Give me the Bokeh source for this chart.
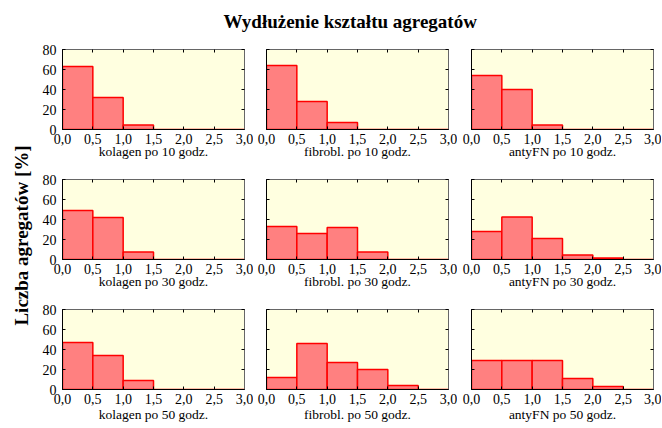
import math
from bokeh.plotting import figure
from bokeh.layouts import column, row, gridplot
from bokeh.models import (Range1d, FixedTicker, LinearAxis, Label,
                          CustomJSTickFormatter, ColumnDataSource)
from bokeh.embed import file_html
from bokeh.resources import INLINE

# ---------------- data ----------------
bin_left = [0.0, 0.5, 1.0, 1.5, 2.0, 2.5]
bin_right = [0.5, 1.0, 1.5, 2.0, 2.5, 3.0]

kolagen_10 = [63, 32, 4.5, 0, 0, 0]
fibrobl_10 = [64, 28, 7, 0, 0, 0]
antyfn_10 = [54, 40, 4.5, 0, 0, 0]
kolagen_30 = [49, 42, 7.5, 0, 0, 0]
fibrobl_30 = [33, 26, 32, 7.5, 0, 0]
antyfn_30 = [28, 42.5, 21, 4.5, 1.5, 0]
kolagen_50 = [47, 34, 9, 0, 0, 0]
fibrobl_50 = [12, 46, 27, 20, 4, 0]
antyfn_50 = [29, 29, 29, 11, 3, 0]

panel_titles = [
    ["kolagen po 10 godz.", "fibrobl. po 10 godz.", "antyFN po 10 godz."],
    ["kolagen po 30 godz.", "fibrobl. po 30 godz.", "antyFN po 30 godz."],
    ["kolagen po 50 godz.", "fibrobl. po 50 godz.", "antyFN po 50 godz."],
]
panel_values = [
    [kolagen_10, fibrobl_10, antyfn_10],
    [kolagen_30, fibrobl_30, antyfn_30],
    [kolagen_50, fibrobl_50, antyfn_50],
]
x_ticks = [0.0, 0.5, 1.0, 1.5, 2.0, 2.5, 3.0]
y_ticks = [0, 20, 40, 60, 80]

main_title = "Wydłużenie kształtu agregatów"
y_title = "Liczba agregatów [%]"

# ---------------- style ----------------
FONT = "Liberation Serif"
BG = "#FFFFE0"
FILL = "#FF8080"
EDGE = "#FF0000"

col_left = [26, 13, 14]
col_right = [9, 9, 8]
row_top = [6, 6, 6]
row_bottom = [44, 44, 39]
label_standoff = [-3, -3, 0]
FW, FH = 182, 80
YL_W = 36
TITLE_H = 43

fmt = CustomJSTickFormatter(code="return tick.toFixed(1).replace('.', ',');")


def hide_labels(ax):
    ax.major_label_text_font_size = "1px"
    ax.major_label_standoff = 0
    ax.major_label_text_color = None


def make_panel(r, c):
    p = figure(frame_width=FW, frame_height=FH,
               x_range=Range1d(0, 3), y_range=Range1d(0, 80),
               output_backend="svg", toolbar_location=None, tools="",
               min_border_left=col_left[c], min_border_right=col_right[c],
               min_border_top=row_top[r], min_border_bottom=row_bottom[r],
               background_fill_color=BG, border_fill_color="white",
               outline_line_color="#666666", outline_line_width=1)
    p.xgrid.visible = False
    p.ygrid.visible = False

    src = ColumnDataSource(dict(left=bin_left, right=bin_right,
                                top=panel_values[r][c],
                                bottom=[0] * len(bin_left)))
    p.quad(left="left", right="right", top="top", bottom="bottom", source=src,
           fill_color=FILL, line_color=EDGE, line_width=1.5)

    # bottom axis
    xa = p.xaxis[0]
    xa.ticker = FixedTicker(ticks=x_ticks)
    xa.formatter = fmt
    xa.major_tick_in = 3
    xa.major_tick_out = 0
    xa.minor_tick_line_color = None
    xa.axis_line_color = "black"
    xa.major_label_text_font = FONT
    xa.major_label_text_font_size = "14px"
    xa.major_label_text_color = "black"
    xa.major_label_standoff = 4
    xa.axis_label = panel_titles[r][c]
    xa.axis_label_text_font = FONT
    xa.axis_label_text_font_size = "13.5px"
    xa.axis_label_text_font_style = "normal"
    xa.axis_label_text_color = "black"
    xa.axis_label_standoff = label_standoff[r]

    # left axis
    ya = p.yaxis[0]
    ya.ticker = FixedTicker(ticks=y_ticks)
    ya.major_tick_in = 3
    ya.major_tick_out = 0
    ya.minor_tick_line_color = None
    ya.axis_line_color = "black"
    if c == 0:
        ya.major_label_text_font = FONT
        ya.major_label_text_font_size = "14px"
        ya.major_label_text_color = "black"
        ya.major_label_standoff = 6
    else:
        ya.major_label_overrides = {t: "" for t in y_ticks}
        hide_labels(ya)

    # top & right tick-only axes
    top = LinearAxis(ticker=FixedTicker(ticks=x_ticks), major_tick_in=3,
                     major_tick_out=0, minor_tick_line_color=None,
                     axis_line_color="#666666")
    top.major_label_overrides = {t: "" for t in x_ticks}
    hide_labels(top)
    p.add_layout(top, "above")
    right = LinearAxis(ticker=FixedTicker(ticks=y_ticks), major_tick_in=3,
                       major_tick_out=0, minor_tick_line_color=None,
                       axis_line_color="#666666")
    right.major_label_overrides = {t: "" for t in y_ticks}
    hide_labels(right)
    p.add_layout(right, "right")
    return p


panels = [[make_panel(r, c) for c in range(3)] for r in range(3)]
grid = gridplot(panels, toolbar_location=None)

grid_h = sum(row_top) + sum(row_bottom) + 3 * FH
grid_w = sum(col_left) + sum(col_right) + 3 * FW

# y label figure
ylab = figure(width=YL_W, height=grid_h, x_range=Range1d(0, YL_W),
              y_range=Range1d(0, grid_h), output_backend="svg",
              toolbar_location=None, tools="", min_border=0,
              x_axis_location=None, y_axis_location=None,
              outline_line_color=None, background_fill_color="white")
ylab.xgrid.visible = False
ylab.ygrid.visible = False
ylab.add_layout(Label(x=20.5, y=grid_h - 192, text=y_title, angle=math.pi / 2,
                      text_align="center", text_baseline="alphabetic",
                      text_font=FONT, text_font_size="19px",
                      text_font_style="bold", text_color="black"))

# title figure
total_w = YL_W + grid_w
tfig = figure(width=total_w, height=TITLE_H, x_range=Range1d(0, total_w),
              y_range=Range1d(0, TITLE_H), output_backend="svg",
              toolbar_location=None, tools="", min_border=0,
              x_axis_location=None, y_axis_location=None,
              outline_line_color=None, background_fill_color="white")
tfig.xgrid.visible = False
tfig.ygrid.visible = False
tfig.add_layout(Label(x=349.7, y=TITLE_H - 21.3, text=main_title,
                      text_align="center", text_baseline="alphabetic",
                      text_font=FONT, text_font_size="19px",
                      text_font_style="bold", text_color="black"))

layout = column(tfig, row(ylab, grid))

with open("out.html", "w") as f:
    f.write(file_html(layout, INLINE))
